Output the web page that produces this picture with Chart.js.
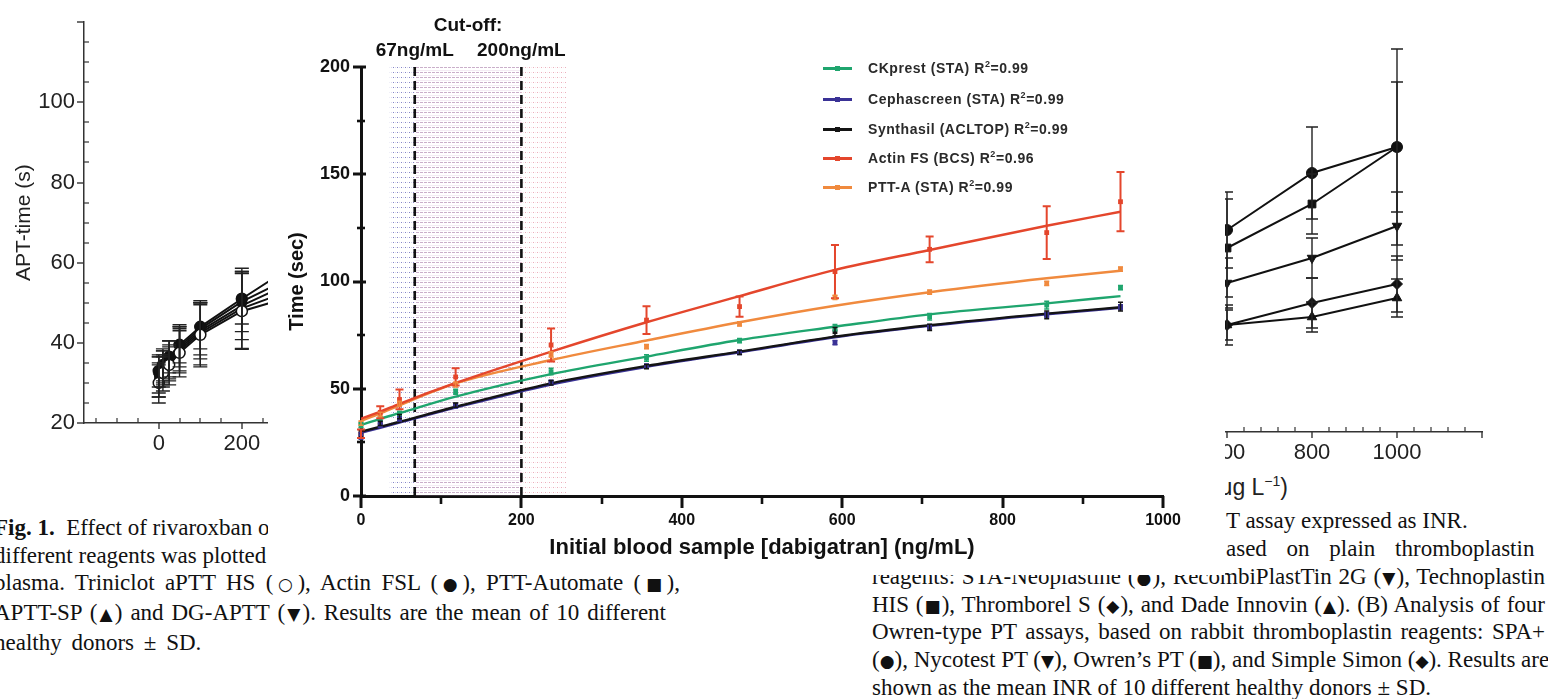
<!DOCTYPE html>
<html><head><meta charset="utf-8">
<script src="https://cdn.jsdelivr.net/npm/chart.js@4.4.1/dist/chart.umd.min.js"></script>
<style>
html,body{margin:0;padding:0;background:#fff;}
#stage{position:relative;width:1548px;height:699px;overflow:hidden;background:#fff;font-family:"Liberation Sans",Arial,sans-serif;}
canvas{position:absolute;display:block;}
.cap{position:absolute;font-family:"Liberation Serif","Times New Roman",serif;font-size:23px;line-height:27.7px;color:#111;white-space:nowrap;}
.cap .s{font-family:"DejaVu Sans",sans-serif;font-size:17px;}
.just{text-align:justify;text-align-last:justify;}
#box{position:absolute;left:268px;top:0;width:957px;height:575px;background:#fff;z-index:5;}
.cut{position:absolute;font-weight:bold;font-size:19px;color:#111;transform:translateX(-50%);white-space:nowrap;line-height:22px;}
.leg{position:absolute;height:20px;font-weight:bold;font-size:14px;letter-spacing:0.55px;color:#2a2a2a;white-space:nowrap;line-height:20px;}
.leg .ln{position:absolute;left:0;top:9px;width:29px;height:2.5px;}
.leg .mk{position:absolute;left:12px;top:7.5px;width:5px;height:5px;}
.leg .tx{position:absolute;left:45px;top:0;}
.leg sup{font-size:9px;line-height:0;vertical-align:6px;}
.rt{position:absolute;font-size:23px;color:#222;white-space:nowrap;line-height:26px;}
.rt sup{font-size:14px;line-height:0;}
</style></head>
<body>
<div id="stage">
  <canvas id="leftChart" width="420" height="470" style="left:0;top:0"></canvas>
  <canvas id="rightChart" width="648" height="470" style="left:900px;top:0"></canvas>
  <div class="rt" style="right:260px;top:474px;">Rivaroxaban (μg L<sup>−1</sup>)</div>

  <div class="cap" style="left:-6px;top:514px">
    <div><b>Fig. 1.</b>&nbsp; Effect of rivaroxban on</div>
    <div>different reagents was plotted</div>
    <div class="just" style="width:686px">plasma. Triniclot aPTT HS (<span class="s">○</span>), Actin FSL (<span class="s">●</span>), PTT-Automate (<span class="s">■</span>),</div>
    <div class="just" style="width:672px">APTT-SP (<span class="s">▲</span>) and DG-APTT (<span class="s">▼</span>). Results are the mean of 10 different</div>
    <div style="word-spacing:4px">healthy donors ± SD.</div>
  </div>
  <div class="cap" style="left:1226px;top:507px">T assay expressed as INR.</div>
  <div class="cap" style="left:1226px;top:535px;word-spacing:14px">ased on plain thromboplastin</div>
  <div class="cap just" style="left:872px;top:563px;width:673px">reagents: STA-Neoplastine (<span class="s">●</span>), RecombiPlastTin 2G (<span class="s">▼</span>), Technoplastin</div>
  <div class="cap just" style="left:872px;top:590.7px;width:673px">HIS (<span class="s">■</span>), Thromborel S (<span class="s">◆</span>), and Dade Innovin (<span class="s">▲</span>). (B) Analysis of four</div>
  <div class="cap just" style="left:872px;top:618.4px;width:673px">Owren-type PT assays, based on rabbit thromboplastin reagents: SPA+</div>
  <div class="cap just" style="left:872px;top:646.1px;width:673px">(<span class="s">●</span>), Nycotest PT (<span class="s">▼</span>), Owren’s PT (<span class="s">■</span>), and Simple Simon (<span class="s">◆</span>). Results are</div>
  <div class="cap" style="left:872px;top:673.8px">shown as the mean INR of 10 different healthy donors ± SD.</div>

  <div id="box">
    <canvas id="mainChart" width="957" height="575" style="left:0;top:0"></canvas>
    <div class="cut" id="cutTitle" style="top:14px">Cut-off:</div>
    <div id="legend"></div>
  </div>
</div>
<script>
// ================= MAIN CHART DATA =================
const doseX       = [0, 24, 48, 118, 237, 356, 472, 591, 709, 855, 947];
const ckprestMean = [33, 36, 38.5, 48.6, 58, 64.3, 72.4, 78.5, 83.6, 89, 97.1];
const ckprestSD   = [1.2, 1, 1, 1.2, 1.5, 1.5, 1, 1.5, 1.5, 1.8, 1];
const ckprestFit  = [33.1, 36, 38.6, 46.3, 56.8, 65, 72.7, 78.9, 84.7, 89.8, 93.2];
const cephaMean   = [28, 33, 36, 42, 53, 60.5, 67, 71.5, 79, 84.5, 88];
const cephaSD     = [1.5, 1, 1, 1, 1, 1, 1, 1, 1, 1.2, 1.2];
const cephaFit    = [29.5, 31.8, 34.2, 41.2, 52, 60.2, 67, 74, 79.3, 84.7, 87.7];
const synthMean   = [29, 33.9, 37, 42.4, 52.8, 60.3, 67, 76.6, 78.6, 84.4, 88.3];
const synthSD     = [1.5, 1, 1, 1, 1, 1, 1, 2, 1.5, 1.8, 2];
const synthFit    = [30, 32.3, 34.6, 41.6, 52.5, 60.6, 67.3, 74.3, 79.6, 85, 88];
const actinMean   = [29, 39, 45, 55.5, 70.4, 82, 88.3, 104.6, 115, 122.8, 137.2];
const actinSD     = [2, 2.8, 4.6, 4, 7.7, 6.5, 4.7, 12.4, 6, 12.3, 13.8];
const actinFit    = [36, 39.3, 43, 52.7, 67.3, 81, 93.2, 105.4, 114.7, 126, 132.5];
const pttaMean    = [34, 38, 43, 52, 66, 69.6, 80.2, 92.6, 95, 99.1, 105.8];
const pttaSD      = [1, 1, 1.2, 1.2, 1.2, 1, 1, 1, 1, 1, 1];
const pttaFit     = [35, 38.5, 42.3, 52.5, 63.4, 72.5, 81, 88.7, 95, 101.5, 105];

const seriesNames  = ['CKprest (STA)', 'Cephascreen (STA)', 'Synthasil (ACLTOP)', 'Actin FS (BCS)', 'PTT-A (STA)'];
const seriesR2     = ['0.99', '0.99', '0.99', '0.96', '0.99'];
const seriesColors = ['#1fa56e', '#3a3296', '#141414', '#e4462c', '#f08a3e'];

const cutoffValues = [67, 200];
const cutoffLabels = ['67ng/mL', '200ng/mL'];
const shadeBands   = [[36, 67], [67, 200], [200, 256]];

const mainXTicks = [0, 200, 400, 600, 800, 1000];
const mainXMinor = [100, 300, 500, 700, 900];
const mainYTicks = [0, 50, 100, 150, 200];
const mainYMinor = [25, 75, 125, 175];

// ================= LEFT FRAGMENT DATA =================
const aptX          = [0, 10, 25, 50, 100, 200, 400];
const triniclotMean = [30, 32.5, 34.5, 37.5, 42, 47.9, 54];
const triniclotSD   = [5, 4.5, 5, 6, 8, 9.5, 10];
const actinFslMean  = [33, 34.5, 36.5, 39.5, 44, 51, 64.4];
const actinFslSD    = [4, 4, 4, 4.5, 5.5, 6.3, 8];
const pttAutoMean   = [32, 34, 36, 39, 43.5, 50.3, 60.5];
const pttAutoSD     = [4.5, 4, 4.5, 5, 6.5, 7.5, 9];
const apttSpMean    = [30.5, 33, 35, 38, 42.5, 48.6, 56.2];
const apttSpSD      = [4, 3.5, 4, 5, 8, 10, 10];
const dgApttMean    = [31.5, 33.5, 35.5, 38.5, 43, 49.3, 58.9];
const dgApttSD      = [5, 4.5, 5, 6, 7, 8.5, 9];
const aptXTicks = [0, 200, 400];
const aptXMinor = [-150, -100, -50, 50, 100, 150, 250, 300, 350, 450, 500, 550];
const aptYTicks = [20, 40, 60, 80, 100];
const aptYMajorMarks = [20, 40, 60, 80, 100, 120];
const aptYMinor = [25, 30, 35, 45, 50, 55, 65, 70, 75, 85, 90, 95, 105, 110, 115];

// ================= RIGHT FRAGMENT DATA =================
const inrX           = [600, 800, 1000];
const neoMean        = [2.52, 3.09, 3.35];
const neoSD          = [0.38, 0.46, 0.98];
const technoMean     = [2.34, 2.78, 3.35];
const technoSD       = [0.49, 0.3, 0.65];
const recombiMean    = [1.99, 2.24, 2.56];
const recombiSD      = [0.25, 0.2, 0.34];
const thromborelMean = [1.57, 1.79, 1.98];
const thromborelSD   = [0.2, 0.25, 0.28];
const innovinMean    = [1.57, 1.65, 1.84];
const innovinSD      = [0.15, 0.15, 0.19];
const inrXTicks = [600, 800, 1000];
const inrXMajorMarks = [400, 600, 800, 1000, 1200];
const inrXMinor = [440, 480, 520, 560, 640, 680, 720, 760, 840, 880, 920, 960, 1040, 1080, 1120, 1160];

// ================= HELPERS / PLUGINS =================
Chart.defaults.font.family = '"Liberation Sans", Arial, sans-serif';
const pts = (xs, ys) => xs.map((x, i) => ({x, y: ys[i]}));
const plainLabel = v => String(v);

const tickMarks = {
  id: 'tickMarks',
  afterDraw(chart, args, o) {
    const ctx = chart.ctx, ca = chart.chartArea;
    ctx.save();
    ctx.strokeStyle = o.color || '#000';
    ctx.lineCap = 'butt';
    (o.x || []).forEach(g => {
      const s = chart.scales.x; ctx.lineWidth = g.width;
      g.vals.forEach(v => {
        const p = Math.round(s.getPixelForValue(v));
        if (p < ca.left - 1 || p > ca.right + 1) return;
        ctx.beginPath(); ctx.moveTo(p, ca.bottom - g.up); ctx.lineTo(p, ca.bottom + g.down); ctx.stroke();
      });
    });
    (o.y || []).forEach(g => {
      const s = chart.scales.y; ctx.lineWidth = g.width;
      g.vals.forEach(v => {
        const p = Math.round(s.getPixelForValue(v));
        ctx.beginPath(); ctx.moveTo(ca.left - g.out, p); ctx.lineTo(ca.left + g.in, p); ctx.stroke();
      });
    });
    ctx.restore();
  }
};

const errBars = {
  id: 'errBars',
  afterDatasetsDraw(chart) {
    const ctx = chart.ctx, xs = chart.scales.x, ys = chart.scales.y;
    ctx.save();
    chart.data.datasets.forEach((ds, i) => {
      if (!ds.errors) return;
      ctx.strokeStyle = ds.errColor || ds.borderColor;
      ctx.lineWidth = ds.errWidth || 1.5;
      ds.data.forEach((p, j) => {
        const e = ds.errors[j]; if (!e) return;
        const px = xs.getPixelForValue(p.x);
        const t = ys.getPixelForValue(p.y + e), b = ys.getPixelForValue(p.y - e);
        const w = ds.capHalf || 4;
        ctx.beginPath();
        ctx.moveTo(px, t); ctx.lineTo(px, b);
        ctx.moveTo(px - w, t); ctx.lineTo(px + w, t);
        ctx.moveTo(px - w, b); ctx.lineTo(px + w, b);
        ctx.stroke();
      });
    });
    ctx.restore();
  }
};

function makePattern(ctx, w, h, draw) {
  const c = document.createElement('canvas'); c.width = w; c.height = h;
  draw(c.getContext('2d'));
  return ctx.createPattern(c, 'repeat');
}

const cutoffPlugin = {
  id: 'cutoff',
  beforeDatasetsDraw(chart) {
    const ctx = chart.ctx, xs = chart.scales.x, ys = chart.scales.y;
    const pats = [
      makePattern(ctx, 4, 5, g => { g.fillStyle = 'rgba(80,80,175,0.7)'; g.fillRect(1, 2, 1, 1); g.fillStyle = 'rgba(130,130,200,0.3)'; g.fillRect(3, 2, 1, 1); }),
      makePattern(ctx, 4, 5, g => { g.fillStyle = 'rgba(150,95,150,0.5)'; g.fillRect(0, 2, 3, 1); g.fillStyle = 'rgba(205,170,205,0.22)'; g.fillRect(0, 0, 4, 1); }),
      makePattern(ctx, 4, 5, g => { g.fillStyle = 'rgba(225,130,150,0.65)'; g.fillRect(1, 2, 1, 1); g.fillStyle = 'rgba(240,190,200,0.35)'; g.fillRect(3, 2, 1, 1); })
    ];
    const top = ys.getPixelForValue(ys.max), bot = ys.getPixelForValue(ys.min);
    ctx.save();
    shadeBands.forEach((b, i) => {
      const x0 = xs.getPixelForValue(b[0]), x1 = xs.getPixelForValue(b[1]);
      ctx.fillStyle = pats[i];
      ctx.fillRect(x0, top, x1 - x0, bot - top);
    });
    ctx.strokeStyle = '#111'; ctx.lineWidth = 2.6; ctx.setLineDash([9, 5]);
    cutoffValues.forEach(v => {
      const x = xs.getPixelForValue(v);
      ctx.beginPath(); ctx.moveTo(x, top); ctx.lineTo(x, bot); ctx.stroke();
    });
    ctx.restore();
  }
};

// ================= MAIN CHART =================
const means = [ckprestMean, cephaMean, synthMean, actinMean, pttaMean];
const sds   = [ckprestSD, cephaSD, synthSD, actinSD, pttaSD];
const fits  = [ckprestFit, cephaFit, synthFit, actinFit, pttaFit];
const fitOrder = [30, 50, 40, 10, 20];
const mainDatasets = [];
fits.forEach((f, i) => mainDatasets.push({
  label: seriesNames[i] + ' fit', data: pts(doseX, f), showLine: true,
  borderColor: seriesColors[i], borderWidth: 2.4, pointRadius: 0,
  cubicInterpolationMode: 'monotone', order: fitOrder[i]
}));
means.forEach((m, i) => mainDatasets.push({
  label: seriesNames[i], data: pts(doseX, m), showLine: false,
  pointStyle: 'rect', pointRadius: 3.4, backgroundColor: seriesColors[i], borderColor: seriesColors[i], borderWidth: 0,
  errors: sds[i], errWidth: i === 3 ? 2 : 1.5, capHalf: i === 3 ? 4 : 2.5, order: 1, clip: false
}));

const mainChart = new Chart(document.getElementById('mainChart'), {
  type: 'scatter',
  data: { datasets: mainDatasets },
  options: {
    responsive: false, animation: false, events: [],
    layout: { padding: { left: 0, right: 62, top: 67, bottom: 0 } },
    plugins: {
      legend: { display: false }, tooltip: { enabled: false },
      tickMarks: {
        color: '#111',
        x: [{ vals: mainXTicks, up: 0, down: 12, width: 3 }, { vals: mainXMinor, up: 0, down: 8, width: 2.6 }],
        y: [{ vals: mainYTicks, out: 8, in: 5, width: 3 }, { vals: mainYMinor, out: 4, in: 4, width: 2.6 }]
      }
    },
    scales: {
      x: {
        type: 'linear', min: 0, max: 1000,
        afterBuildTicks: s => { s.ticks = mainXTicks.map(v => ({ value: v })); },
        afterFit: s => { s.height = 79; },
        grid: { display: false, drawTicks: false },
        border: { display: true, width: 3, color: '#111' },
        ticks: { font: { size: 16, weight: 'bold' }, color: '#111', padding: 15, maxRotation: 0, autoSkip: false, callback: plainLabel },
        title: { display: true, text: 'Initial blood sample [dabigatran] (ng/mL)', color: '#111',
                 font: { size: 22, weight: 'bold' }, padding: { top: 0, bottom: 14 } }
      },
      y: {
        type: 'linear', min: 0, max: 200,
        afterBuildTicks: s => { s.ticks = mainYTicks.map(v => ({ value: v })); },
        afterFit: s => { s.width = 93; },
        grid: { display: false, drawTicks: false },
        border: { display: true, width: 3, color: '#111' },
        ticks: { font: { size: 18, weight: 'bold' }, color: '#111', padding: 11, callback: plainLabel },
        title: { display: true, text: 'Time (sec)', color: '#111',
                 font: { size: 20, weight: 'bold' }, padding: { top: 17, bottom: 0 } }
      }
    }
  },
  plugins: [cutoffPlugin, errBars, tickMarks]
});

// cut-off labels and legend placed with the chart's own x scale
(function () {
  const xs = mainChart.scales.x;
  const box = document.getElementById('box');
  cutoffValues.forEach((v, i) => {
    const d = document.createElement('div');
    d.className = 'cut'; d.textContent = cutoffLabels[i];
    d.style.left = xs.getPixelForValue(v) + 'px'; d.style.top = '39px';
    box.appendChild(d);
  });
  const t = document.getElementById('cutTitle');
  t.style.left = (xs.getPixelForValue(cutoffValues[0]) + xs.getPixelForValue(cutoffValues[1])) / 2 + 'px';
  const leg = document.getElementById('legend');
  const legTop = [58, 89, 119, 148, 177];
  seriesNames.forEach((n, i) => {
    const r = document.createElement('div');
    r.className = 'leg'; r.style.left = '555px'; r.style.top = legTop[i] + 'px';
    r.innerHTML = '<div class="ln" style="background:' + seriesColors[i] + '"></div>' +
      '<div class="mk" style="background:' + seriesColors[i] + '"></div>' +
      '<div class="tx">' + n + ' R<sup>2</sup>=' + seriesR2[i] + '</div>';
    leg.appendChild(r);
  });
})();

// ================= LEFT FRAGMENT CHART =================
const leftSeries = [
  { m: triniclotMean, s: triniclotSD, style: 'circle', fill: '#fff', rot: 0 },
  { m: actinFslMean,  s: actinFslSD,  style: 'circle', fill: '#111', rot: 0 },
  { m: pttAutoMean,   s: pttAutoSD,   style: 'rect',   fill: '#111', rot: 0 },
  { m: apttSpMean,    s: apttSpSD,    style: 'triangle', fill: '#111', rot: 0 },
  { m: dgApttMean,    s: dgApttSD,    style: 'triangle', fill: '#111', rot: 180 }
];
new Chart(document.getElementById('leftChart'), {
  type: 'scatter',
  data: { datasets: leftSeries.map(o => ({
    data: pts(aptX, o.m), showLine: true, borderColor: '#111', borderWidth: 2,
    pointStyle: o.style, rotation: o.rot, pointRadius: 5.5, pointBackgroundColor: o.fill,
    pointBorderColor: '#111', pointBorderWidth: 1.5, errors: o.s, errColor: '#222', errWidth: 1.4, capHalf: 7
  })) },
  options: {
    responsive: false, animation: false, events: [],
    layout: { padding: { left: 0, right: 12, top: 10, bottom: 0 } },
    plugins: {
      legend: { display: false }, tooltip: { enabled: false },
      tickMarks: {
        color: '#333',
        x: [{ vals: aptXTicks, up: 0, down: 6, width: 1.4 }, { vals: aptXMinor, up: 5, down: 0, width: 1.2 }],
        y: [{ vals: aptYMajorMarks, out: 7, in: 0, width: 1.4 }, { vals: aptYMinor, out: 0, in: 5, width: 1.2 }]
      }
    },
    scales: {
      x: {
        type: 'linear', min: -180, max: 600,
        afterBuildTicks: s => { s.ticks = aptXTicks.map(v => ({ value: v })); },
        afterFit: s => { s.height = 47; },
        grid: { display: false, drawTicks: false },
        border: { display: true, width: 1.5, color: '#333' },
        ticks: { font: { size: 22 }, color: '#222', padding: 8, maxRotation: 0, autoSkip: false, callback: plainLabel }
      },
      y: {
        type: 'linear', min: 20, max: 120,
        afterBuildTicks: s => { s.ticks = aptYTicks.map(v => ({ value: v })); },
        afterFit: s => { s.width = 84; },
        grid: { display: false, drawTicks: false },
        border: { display: true, width: 1.5, color: '#333' },
        ticks: { font: { size: 22 }, color: '#222', padding: 9, callback: plainLabel },
        title: { display: true, text: 'APT-time (s)', color: '#222', font: { size: 21 }, padding: { top: 12, bottom: 0 } }
      }
    }
  },
  plugins: [errBars, tickMarks]
});

// ================= RIGHT FRAGMENT CHART =================
const rightSeries = [
  { m: neoMean,        s: neoSD,        style: 'circle',   rot: 0 },
  { m: technoMean,     s: technoSD,     style: 'rect',     rot: 0 },
  { m: recombiMean,    s: recombiSD,    style: 'triangle', rot: 180 },
  { m: thromborelMean, s: thromborelSD, style: 'rectRot',  rot: 0 },
  { m: innovinMean,    s: innovinSD,    style: 'triangle', rot: 0 }
];
new Chart(document.getElementById('rightChart'), {
  type: 'scatter',
  data: { datasets: rightSeries.map(o => ({
    data: pts(inrX, o.m), showLine: true, borderColor: '#111', borderWidth: 2,
    pointStyle: o.style, rotation: o.rot, pointRadius: 5.5, pointBackgroundColor: '#111',
    pointBorderColor: '#111', pointBorderWidth: 1, errors: o.s, errColor: '#222', errWidth: 1.4, capHalf: 6
  })) },
  options: {
    responsive: false, animation: false, events: [],
    layout: { padding: { left: 72, right: 66, top: 32, bottom: 0 } },
    plugins: {
      legend: { display: false }, tooltip: { enabled: false },
      tickMarks: {
        color: '#333',
        x: [{ vals: inrXMajorMarks, up: 0, down: 6, width: 1.4 }, { vals: inrXMinor, up: 5, down: 0, width: 1.2 }]
      }
    },
    scales: {
      x: {
        type: 'linear', min: 0, max: 1200,
        afterBuildTicks: s => { s.ticks = inrXTicks.map(v => ({ value: v })); },
        afterFit: s => { s.height = 38; },
        grid: { display: false, drawTicks: false },
        border: { display: true, width: 1.5, color: '#333' },
        ticks: { font: { size: 22 }, color: '#222', padding: 8, maxRotation: 0, autoSkip: false, callback: plainLabel }
      },
      y: { type: 'linear', min: 0.5, max: 4.5, display: false }
    }
  },
  plugins: [errBars, tickMarks]
});
</script>
</body></html>
